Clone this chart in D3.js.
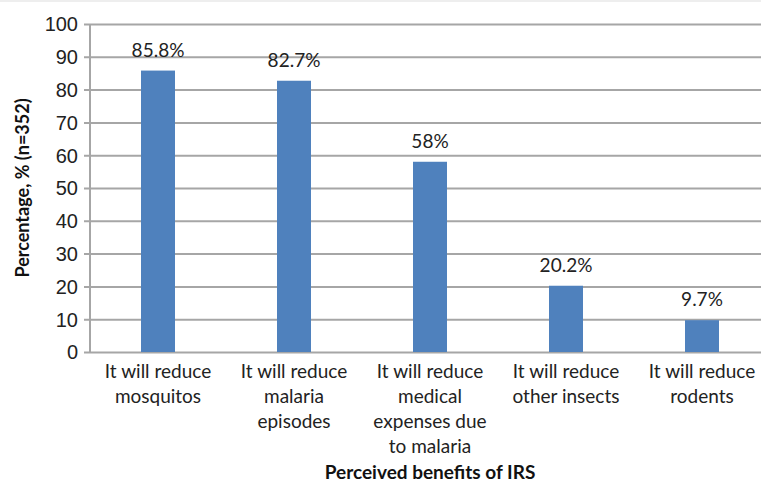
<!DOCTYPE html>
<html>
<head>
  <title>Perceived benefits of IRS</title>
  <script src="https://d3js.org/d3.v7.min.js"></script>
  <style>
    body { margin: 0; background: white; }
    svg { display: block; font-family: Lato, "Open Sans", sans-serif; }
  </style>
</head>
<body>
<svg id="chart" width="761" height="487"></svg>
<script>
  var categories = [
    ["It will reduce", "mosquitos"],
    ["It will reduce", "malaria", "episodes"],
    ["It will reduce", "medical", "expenses due", "to malaria"],
    ["It will reduce", "other insects"],
    ["It will reduce", "rodents"]
  ];
  var values = [85.8, 82.7, 58, 20.2, 9.7];
  var valueLabels = ["85.8%", "82.7%", "58%", "20.2%", "9.7%"];
  var yTicks = [0, 10, 20, 30, 40, 50, 60, 70, 80, 90, 100];

  var svg = d3.select("#chart");
  var m = { left: 90, right: -9, top: 24, bottom: 135 };
  var w = 761, h = 487;

  // thin light band along the top edge
  svg.append("rect").attr("x", 0).attr("y", 0).attr("width", w).attr("height", 2).attr("fill", "#eeeeee");

  var x = d3.scaleBand()
    .domain(d3.range(values.length))
    .range([m.left, w - m.right])
    .paddingInner(0.75).paddingOuter(0.375);
  var y = d3.scaleLinear([0, 100], [h - m.bottom, m.top]);

  // gridlines + y axis
  var yAxis = svg.append("g")
    .attr("transform", `translate(${m.left},0)`)
    .call(d3.axisLeft(y).tickValues(yTicks).tickPadding(6)
      .tickSizeInner(-(w - m.right - m.left)).tickSizeOuter(0));
  yAxis.select(".domain").remove();
  yAxis.selectAll(".tick line").attr("stroke", "#a6a6a6").attr("stroke-width", 2).attr("x1", -6);
  yAxis.selectAll(".tick text").attr("font-size", 20).attr("fill", "#222").attr("dx", -6).attr("dy", "0.34em");

  // left axis line
  svg.append("line")
    .attr("x1", m.left).attr("x2", m.left)
    .attr("y1", y(100)).attr("y2", y(0))
    .attr("stroke", "#a6a6a6").attr("stroke-width", 2);

  // bars
  svg.append("g").selectAll("rect")
    .data(values)
    .join("rect")
    .attr("x", (d, i) => x(i))
    .attr("y", d => y(d))
    .attr("width", x.bandwidth())
    .attr("height", d => y(0) - y(d))
    .attr("fill", "#4f81bd");

  // value labels
  svg.append("g").selectAll("text")
    .data(values)
    .join("text")
    .attr("x", (d, i) => x(i) + x.bandwidth() / 2)
    .attr("y", d => y(d) - 14)
    .attr("text-anchor", "middle")
    .attr("font-size", 19)
    .attr("fill", "#222")
    .text((d, i) => valueLabels[i]);

  // category labels
  var cat = svg.append("g").selectAll("text")
    .data(categories)
    .join("text")
    .attr("x", (d, i) => x(i) + x.bandwidth() / 2)
    .attr("y", 378)
    .attr("text-anchor", "middle")
    .attr("font-size", 19)
    .attr("fill", "#222");
  cat.selectAll("tspan")
    .data(d => d)
    .join("tspan")
    .attr("x", function () { return this.parentNode.getAttribute("x"); })
    .attr("dy", (d, i) => i == 0 ? 0 : 25)
    .text(d => d);

  // axis titles
  svg.append("text")
    .attr("x", (m.left + w - m.right) / 2)
    .attr("y", 479)
    .attr("text-anchor", "middle")
    .attr("font-size", 19)
    .attr("font-weight", "bold")
    .attr("fill", "#111")
    .text("Perceived benefits of IRS");

  svg.append("text")
    .attr("transform", `translate(29,${(y(0) + y(100)) / 2}) rotate(-90)`)
    .attr("text-anchor", "middle")
    .attr("font-size", 18)
    .attr("font-weight", "bold")
    .attr("fill", "#111")
    .text("Percentage, % (n=352)");
</script>
</body>
</html>
